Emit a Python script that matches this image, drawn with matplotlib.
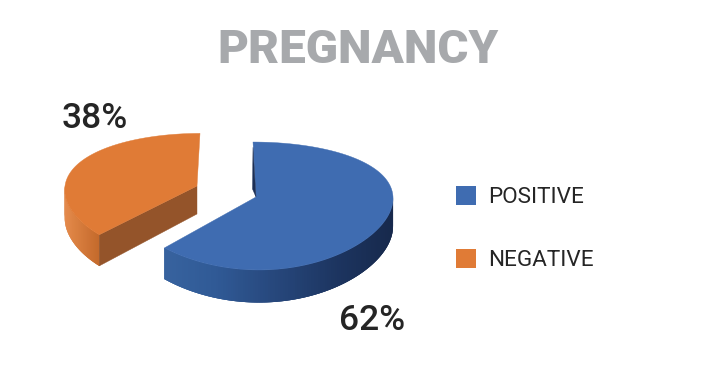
import numpy as np
import matplotlib
matplotlib.use("Agg")
import matplotlib.pyplot as plt
from matplotlib.patches import Polygon, Patch
from matplotlib.colors import to_rgb

title = "PREGNANCY"
categories = ["POSITIVE", "NEGATIVE"]
values = [62, 38]
value_labels = ["62%", "38%"]

BLUE, ORANGE = "#3F6CB1", "#E07B36"
PERSP, DEPTH = 0.1407, 28
GEOM_BLUE = dict(apex=(256, 197), centre=(256, 197), rx=137, ry=62.7, skew=-3)
GEOM_ORANGE = dict(apex=(197, 186), centre=(192, 186), rx=127, ry=60, skew=8)

fig = plt.figure(figsize=(7.05, 3.7), dpi=100)
ax = fig.add_axes([0, 0, 1, 1])
ax.set_xlim(0, 705)
ax.set_ylim(370, 0)
ax.axis("off")


def project(theta_deg, g, drop=0.0):
    t = np.radians(np.asarray(theta_deg, dtype=float))
    u, v = np.cos(t), np.sin(t)
    s = 1 / (1 + PERSP * v)
    return np.column_stack([g["centre"][0] + g["rx"] * u + g["skew"] * v,
                            g["centre"][1] - g["ry"] * v * s + drop * s])


def face(t0, t1, g, color, z):
    arc = project(np.linspace(t0, t1, 200), g)
    ax.add_patch(Polygon(np.vstack([[g["apex"]], arc]), closed=True, fc=color, ec=color, lw=0.3, zorder=z))


def wall(t0, t1, g, stops, z):
    ts = np.linspace(t0, t1, 130)
    top, bot = project(ts, g), project(ts, g, DEPTH)
    xs = [p[0] for p in stops]
    rgb = np.array([to_rgb(p[1]) for p in stops])
    for i in range(len(ts) - 1):
        j = min(i + 3, len(ts) - 1)
        xm = (top[i, 0] + top[i + 1, 0]) / 2
        c = [np.interp(xm, xs, rgb[:, k]) for k in range(3)]
        ax.add_patch(Polygon([top[i], top[j], bot[j], bot[i]], closed=True, fc=c, ec="none", zorder=z))


# slice angles come from the values, clockwise from 12 o'clock
start = 90.0
end = start - 360.0 * values[0] / sum(values)   # blue runs start -> end

# orange (exploded) slice
apex_o = GEOM_ORANGE["apex"]
cut = project([end], GEOM_ORANGE)[0]
cut_low = project([end], GEOM_ORANGE, DEPTH)[0]
wall(end - 47, end, GEOM_ORANGE, [(65, "#E58A4A"), (99, "#C46A2C")], 2)
ax.add_patch(Polygon([apex_o, cut, cut_low, (apex_o[0], apex_o[1] + DEPTH)],
                     closed=True, fc="#94542A", ec="#94542A", lw=0.3, zorder=3))
face(end, start - 360, GEOM_ORANGE, ORANGE, 4)

# blue slice
wall(2, end, GEOM_BLUE, [(162, "#38639F"), (215, "#305A96"), (280, "#26467A"),
                         (340, "#1C345F"), (393, "#17294C")], 5)
face(start, end, GEOM_BLUE, BLUE, 6)
apex_b = GEOM_BLUE["apex"]
ax.add_patch(Polygon([project([start], GEOM_BLUE, 6)[0], apex_b,
                      (apex_b[0] - 3.5, apex_b[1] - 8)],
                     closed=True, fc="#1C2F55", ec="#1C2F55", lw=0.3, zorder=7))

font = "Roboto"
ax.text(358.5, 50, title, ha="center", va="center", fontsize=34.2, fontweight="black",
        color="#A7A9AC", family=font)
ax.text(372, 321, value_labels[0], ha="center", va="center", fontsize=25.5, fontweight="medium",
        color="#252525", family=font)
ax.text(95, 119, value_labels[1], ha="center", va="center", fontsize=25.5, fontweight="medium",
        color="#252525", family=font)

handles = [Patch(fc=BLUE, ec="none"), Patch(fc=ORANGE, ec="none")]
ax.legend(handles, categories, loc="upper left", bbox_to_anchor=(456, 370 - 184),
          bbox_transform=ax.transData, frameon=False, borderpad=0, borderaxespad=0,
          prop={"family": font, "size": 16.2}, labelcolor="#252525",
          handlelength=0.89, handleheight=0.89, handletextpad=0.52, labelspacing=1.83)

fig.savefig("out.png", dpi=100)
